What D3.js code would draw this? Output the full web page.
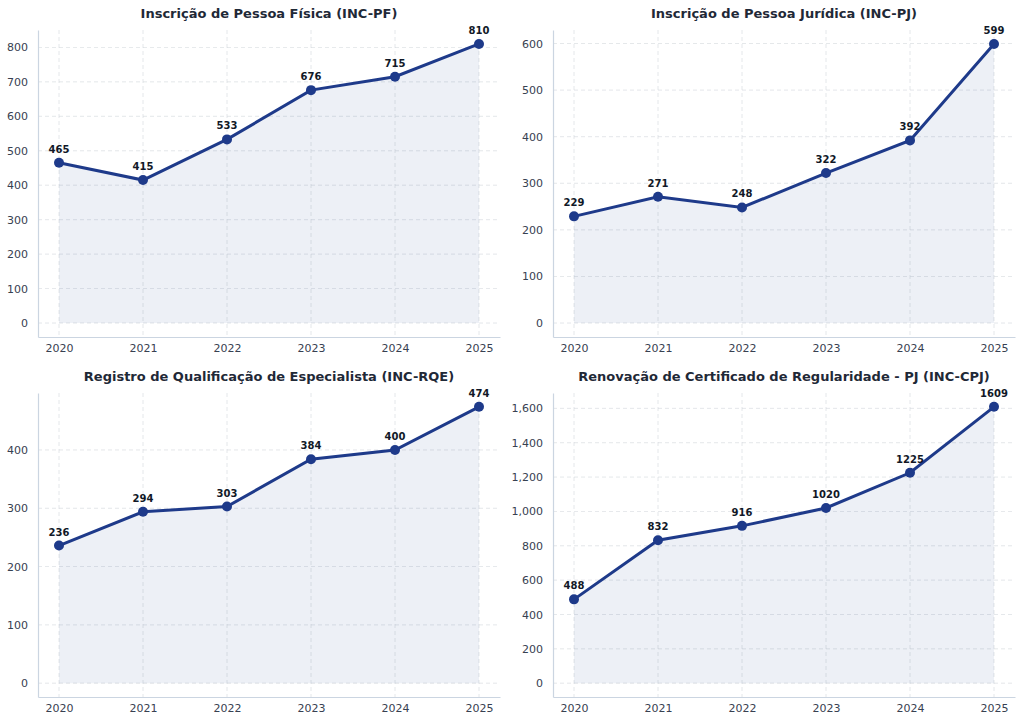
<!DOCTYPE html>
<html><head><meta charset="utf-8">
<script src="https://cdn.jsdelivr.net/npm/d3@7"></script>
<style>body{margin:0;background:#fff;font-family:"DejaVu Sans",sans-serif}</style>
</head><body><svg id="c" width="1024" height="728"></svg>
<script>
var years = [2020, 2021, 2022, 2023, 2024, 2025];
var titles = ['Inscrição de Pessoa Física (INC-PF)', 'Inscrição de Pessoa Jurídica (INC-PJ)',
  'Registro de Qualificação de Especialista (INC-RQE)', 'Renovação de Certificado de Regularidade - PJ (INC-CPJ)'];
var pfValues = [465, 415, 533, 676, 715, 810];
var pjValues = [229, 271, 248, 322, 392, 599];
var rqeValues = [236, 294, 303, 384, 400, 474];
var cpjValues = [488, 832, 916, 1020, 1225, 1609];
var tickSteps = [100, 100, 100, 200];
var series = [pfValues, pjValues, rqeValues, cpjValues];
var boxes = [[38, 30, 500, 337], [553, 30, 1015, 337], [38, 393, 500, 697], [553, 393, 1015, 697]];
var color = '#1e3a8a';
var svg = d3.select('#c');

series.forEach(function(vals, k) {
  var b = boxes[k];
  var g = svg.append('g');
  var x = d3.scaleLinear().domain([2019.75, 2025.25]).range([b[0], b[2]]);
  var mx = d3.max(vals), pad = mx * 0.05;
  var y = d3.scaleLinear().domain([-pad, mx + pad]).range([b[3], b[1]]);
  var ticks = d3.range(0, mx + pad, tickSteps[k]);
  // grid
  g.selectAll('.gy').data(ticks).enter().append('line')
    .attr('x1', b[0]).attr('x2', b[2]).attr('y1', y).attr('y2', y)
    .attr('stroke', '#d1d5db').attr('stroke-dasharray', '4,3').attr('stroke-width', 0.8).attr('opacity', 0.7);
  g.selectAll('.gx').data(years).enter().append('line')
    .attr('y1', b[1]).attr('y2', b[3]).attr('x1', x).attr('x2', x)
    .attr('stroke', '#d1d5db').attr('stroke-dasharray', '4,3').attr('stroke-width', 0.8).attr('opacity', 0.7);
  // area + line
  var data = years.map(function(yr, i) { return [yr, vals[i]]; });
  g.append('path').datum(data)
    .attr('d', d3.area().x(function(d) { return x(d[0]); }).y0(y(0)).y1(function(d) { return y(d[1]); }))
    .attr('fill', color).attr('fill-opacity', 0.08);
  g.append('path').datum(data)
    .attr('d', d3.line().x(function(d) { return x(d[0]); }).y(function(d) { return y(d[1]); }))
    .attr('fill', 'none').attr('stroke', color).attr('stroke-width', 3);
  g.selectAll('circle').data(data).enter().append('circle')
    .attr('cx', function(d) { return x(d[0]); }).attr('cy', function(d) { return y(d[1]); })
    .attr('r', 5).attr('fill', color);
  g.selectAll('.lb').data(data).enter().append('text')
    .attr('x', function(d) { return x(d[0]); }).attr('y', function(d) { return y(d[1]) - 10; })
    .attr('text-anchor', 'middle').attr('font-size', 10).attr('font-weight', 'bold').attr('fill', '#111827')
    .text(function(d) { return d[1]; });
  // axes
  var ya = g.append('g').attr('transform', 'translate(' + b[0] + ',0)')
    .call(d3.axisLeft(y).tickValues(ticks).tickSize(0).tickPadding(10));
  var xa = g.append('g').attr('transform', 'translate(0,' + b[3] + ')')
    .call(d3.axisBottom(x).tickValues(years).tickFormat(d3.format('d')).tickSize(0).tickPadding(7));
  [ya, xa].forEach(function(a) {
    a.select('.domain').attr('stroke', '#cbd5e1').attr('stroke-width', 1.2);
    a.selectAll('text').attr('font-size', 11).attr('fill', '#374151').attr('font-family', 'DejaVu Sans');
  });
  g.append('text').attr('x', (b[0] + b[2]) / 2).attr('y', b[1] - 12)
    .attr('text-anchor', 'middle').attr('font-size', 13).attr('font-weight', 'bold').attr('fill', '#1f2937')
    .text(titles[k]);
});
</script></body></html>
